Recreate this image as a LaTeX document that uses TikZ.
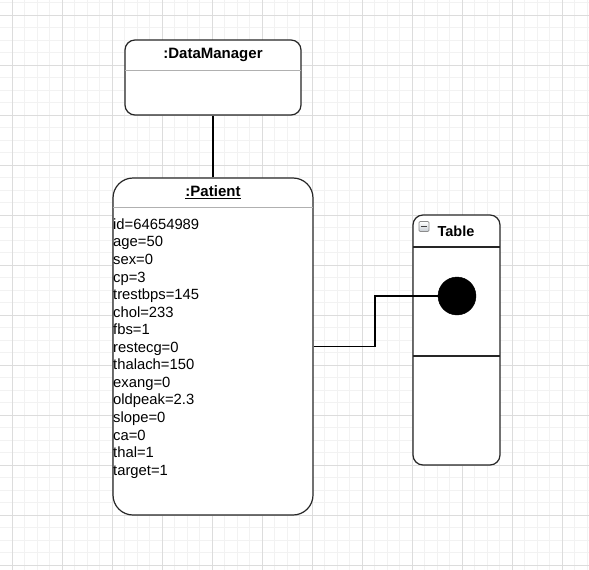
\documentclass[tikz,border=0pt]{standalone}
\usepackage{fontspec}
\setmainfont{Liberation Sans}
\usetikzlibrary{calc}
\definecolor{minorc}{HTML}{F2F2F2}
\definecolor{majorc}{HTML}{DCDCDC}
\definecolor{divc}{HTML}{B0B0B0}
\definecolor{iconc}{HTML}{C8CDD4}
\tikzset{
  minorgrid/.style={draw=minorc, line width=0.7pt},
  majorgrid/.style={draw=majorc, line width=0.9pt},
  umlbox/.style={draw=black!85, line width=1.2pt, fill=white, inner sep=0pt},
  divider/.style={draw=divc, line width=1pt},
  tdivider/.style={draw=black!85, line width=1.2pt},
  titletext/.style={font=\fontsize{15}{18}\selectfont\bfseries, inner sep=0pt, anchor=base},
  attrtext/.style={font=\fontsize{14.8}{17.5}\selectfont, inner sep=0pt, anchor=base west},
  conn/.style={draw=black, line width=1.2pt},
}
\begin{document}
\begin{tikzpicture}[x=1pt,y=-1pt]
\useasboundingbox (0,0) rectangle (589,570);
\fill[white] (0,0) rectangle (589,570);
% grid
\foreach \k in {-1,...,46} \draw[minorgrid] (12+12.5*\k,0) -- (12+12.5*\k,570);
\foreach \k in {-1,...,44} \draw[minorgrid] (0,15+12.5*\k) -- (589,15+12.5*\k);
\foreach \k in {0,...,11} \draw[majorgrid] (12+50*\k,0) -- (12+50*\k,570);
\foreach \k in {0,...,11} \draw[majorgrid] (0,15+50*\k) -- (589,15+50*\k);

% DataManager
\node[umlbox, rounded corners=10pt, minimum width=176pt, minimum height=75pt] (dm) at (213,77.5) {};
\draw[divider] (125,70) -- (301,70);
\node[titletext] (dmtitle) at (213,58.3) {:DataManager};

% Patient
\node[umlbox, rounded corners=20pt, minimum width=200pt, minimum height=337pt] (pat) at (213,346.5) {};
\draw[divider] (113,207) -- (313,207);
\node[titletext] (pattitle) at (213,196.5) {\underline{:Patient}};
\foreach \t [count=\i] in {id=64654989,age=50,sex=0,cp=3,trestbps=145,chol=233,fbs=1,restecg=0,thalach=150,exang=0,oldpeak=2.3,slope=0,ca=0,thal=1,target=1}
  \node[attrtext] (a\i) at (113,229.4+17.55*\i-17.55) {\t};

% connector DataManager - Patient
\draw[conn] (dm.south) -- (pat.north);

% Table
\node[umlbox, rounded corners=10pt, minimum width=87pt, minimum height=250pt] (tab) at (456.5,340) {};
\draw[tdivider] (413,247) -- (500,247);
\draw[tdivider] (413,356) -- (500,356);
\node[titletext, font=\fontsize{14.5}{17}\selectfont\bfseries] (tabtitle) at (456,236.5) {Table};
\node[draw=gray!90, top color=white, bottom color=iconc, rounded corners=1.2pt, minimum size=10pt, inner sep=0pt, line width=0.7pt] (icon) at (424,226.5) {};
\draw[black!75, line width=1.1pt] ($(icon.center)+(-3,0)$) -- ($(icon.center)+(3,0)$);

% dot
\node[circle, fill=black, draw=black, minimum size=38pt, inner sep=0pt] (dot) at (457,296) {};

% connector Patient - dot
\coordinate (bend) at (375,296);
\draw[conn] (pat.east) -| (bend) -- (dot.west);
\end{tikzpicture}
\end{document}
